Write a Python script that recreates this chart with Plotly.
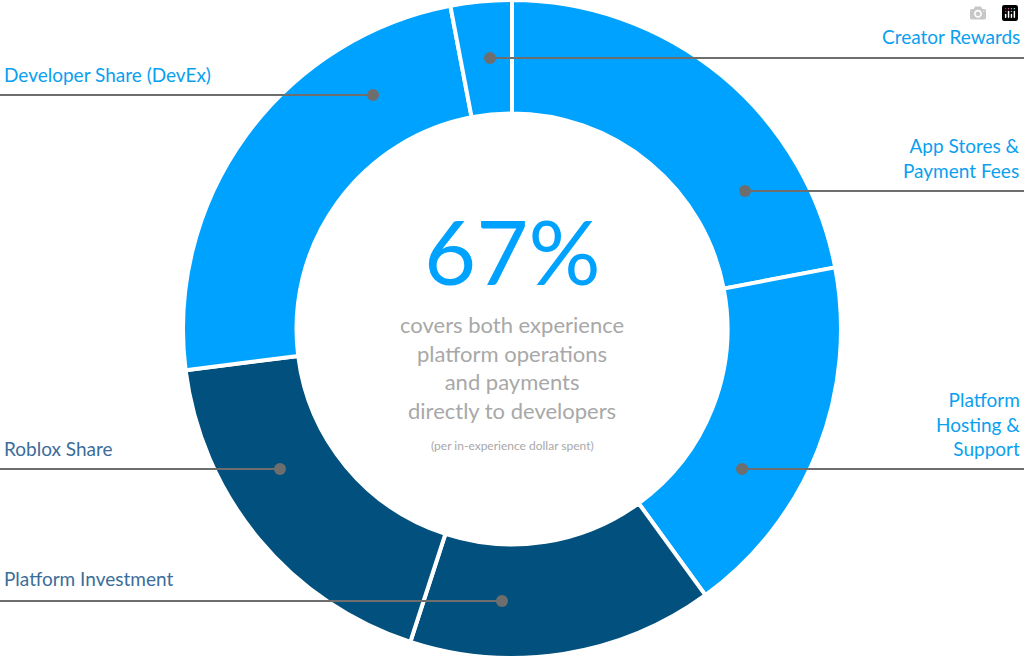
import plotly.graph_objects as go

labels = ["App Stores & Payment Fees", "Platform Hosting & Support", "Platform Investment",
          "Roblox Share", "Developer Share (DevEx)", "Creator Rewards"]
values = [22, 18, 15, 18, 24, 3]
LIGHT, DARK = "#00a2ff", "#02507d"
colors = [LIGHT, LIGHT, DARK, DARK, LIGHT, LIGHT]

W, H = 1024, 658
def px(x): return x / W
def py(y): return 1 - y / H

fig = go.Figure(go.Pie(
    labels=labels, values=values, hole=0.655, sort=False, direction="clockwise", rotation=0,
    marker=dict(colors=colors, line=dict(color="white", width=4)),
    textinfo="none", hoverinfo="label+value", showlegend=False,
    domain=dict(x=[0, 1], y=[0, 1]),
))

leaders = [(490, 58, 1024), (745, 191, 1024), (742, 469, 1024),
           (502, 601, 0), (280, 469, 0), (373, 95, 0)]
shapes = []
for dx, dy, ex in leaders:
    shapes.append(dict(type="line", xref="paper", yref="paper", x0=px(dx), y0=py(dy),
                       x1=px(ex), y1=py(dy), line=dict(color="#6e6e6e", width=2), layer="above"))
    shapes.append(dict(type="circle", xref="paper", yref="paper", x0=px(dx - 6), x1=px(dx + 6),
                       y0=py(dy + 6), y1=py(dy - 6), fillcolor="#6e6e6e",
                       line=dict(width=0), layer="above"))

LBL = "#0a9ff0"
DLBL = "#3b6d9b"
ann = []
def label(text, x, y, anchor, color):
    ann.append(dict(text=text, x=px(x), y=py(y), xref="paper", yref="paper", showarrow=False,
                    xanchor=anchor, yanchor="bottom", align="right" if anchor == "right" else "left",
                    font=dict(size=19, color=color, family="Lato")))

label("Creator Rewards", 1022, 50, "right", LBL)
label("App Stores &amp;<br>Payment Fees", 1022, 184, "right", LBL)
label("Platform<br>Hosting &amp;<br>Support", 1022, 462, "right", LBL)
label("Developer Share (DevEx)", 2, 88, "left", LBL)
label("Roblox Share", 2, 462, "left", DLBL)
label("Platform Investment", 2, 592, "left", DLBL)

ann.append(dict(text="67%", x=0.5, y=py(250), xref="paper", yref="paper", showarrow=False,
                font=dict(size=90, color=LIGHT, family="Lato")))
ann.append(dict(text="covers both experience<br>platform operations<br>and payments<br>directly to developers",
                x=0.5, y=py(367), xref="paper", yref="paper", showarrow=False,
                font=dict(size=22, color="#a8a8a8", family="Lato")))
ann.append(dict(text="(per in-experience dollar spent)", x=0.5, y=py(455), xref="paper", yref="paper",
                showarrow=False, font=dict(size=12, color="#a8a8a8", family="Lato")))

fig.update_layout(width=W, height=H, margin=dict(l=0, r=0, t=0, b=0),
                  paper_bgcolor="white", plot_bgcolor="white", shapes=shapes, annotations=ann)
fig.write_html("out.html", post_script="document.body.style.margin='0';document.body.style.overflow='hidden';")
